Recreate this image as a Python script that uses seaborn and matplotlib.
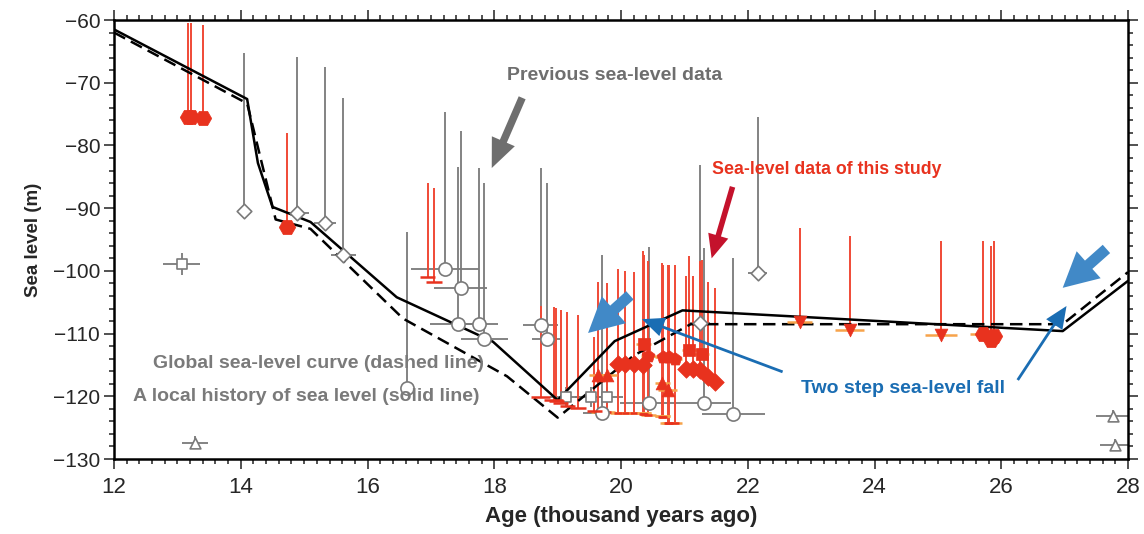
import numpy as np
import pandas as pd
import seaborn as sns
import matplotlib.pyplot as plt
from matplotlib.ticker import MultipleLocator

sns.set_theme(style='ticks')
plt.rcParams['font.family'] = ['Liberation Sans', 'DejaVu Sans']

# sea-level curves: local history (solid) and global curve (dashed)
local_age = [12.0, 14.1, 14.27, 14.5, 15.1, 16.46, 17.98, 19.0, 19.9, 20.97, 26.97, 28.0]
local_sl = [-61.5, -72.6, -82.8, -89.8, -92.2, -104.2, -111.3, -120.6, -111.2, -106.3, -109.6, -101.6]
global_age = [12.0, 14.1, 14.55, 15.1, 16.56, 18.2, 19.0, 20.2, 21.1, 26.97, 28.0]
global_sl = [-62.0, -73.3, -91.8, -93.3, -107.6, -116.8, -123.4, -113.5, -108.5, -108.5, -100.2]

# previous sea-level data (open grey symbols)
prev_age = [14.05, 14.89, 15.33, 15.62, 13.07, 13.28, 16.62, 17.22, 17.47, 17.43, 17.76, 17.84,
            18.73, 18.83, 19.13, 19.52, 19.78, 19.70, 20.44, 21.24, 21.31, 21.77, 22.16, 27.76, 27.80]
prev_sl = [-90.4, -90.7, -92.3, -97.4, -98.9, -127.4, -118.7, -99.7, -102.7, -108.4, -108.5, -110.8,
           -108.6, -110.9, -120.1, -120.1, -120.1, -122.6, -121.0, -108.3, -121.1, -122.8, -100.3, -123.1, -127.8]
prev_hi = [-65.3, -65.9, -67.5, -72.4, -97.1, -126.4, -93.8, -74.7, -77.7, -83.4, -83.6, -86.0,
           -83.6, -86.0, -118.5, -118.5, -118.5, -97.5, -96.2, -83.1, -96.3, -98.0, -75.4, -122.2, -126.8]
prev_lo = [-90.4, -90.7, -92.3, -97.4, -100.7, -127.4, -118.7, -99.7, -102.7, -108.4, -108.5, -110.8,
           -108.6, -110.9, -121.7, -121.7, -121.7, -122.6, -121.0, -108.3, -121.1, -122.8, -100.3, -123.1, -127.8]
prev_xerr = [0.0, 0.18, 0.18, 0.2, 0.29, 0.2, 0.0, 0.54, 0.42, 0.45, 0.3, 0.37,
             0.27, 0.23, 0.25, 0.25, 0.25, 0.3, 0.45, 0.17, 0.42, 0.5, 0.15, 0.26, 0.24]
prev_marker = ['D', 'D', 'D', 'D', 's', '^', 'o', 'o', 'o', 'o', 'o', 'o',
               'o', 'o', 's', 's', 's', 'o', 'o', 'D', 'o', 'o', 'D', '^', '^']

# sea-level data of this study (red symbols)
new_age = [13.17, 13.22, 13.40, 14.73, 16.95, 17.05, 18.73, 18.94, 18.98, 19.05, 19.15, 19.32, 19.58,
           19.64, 19.78, 19.95, 20.07, 20.20, 20.35, 20.36, 20.43, 20.65, 20.66, 20.74, 20.76, 20.85,
           21.03, 21.08, 21.14, 21.24, 21.27, 21.37, 21.48, 22.82, 23.61, 25.05, 25.72, 25.84, 25.88]
new_sl = [-75.5, -75.5, -75.6, -93.0, -100.9, -101.7, -120.1, -120.6, -120.8, -121.0, -121.5, -121.9, -122.3,
          -116.6, -116.6, -114.8, -114.8, -114.8, -115.0, -111.7, -113.6, -117.8, -113.7, -119.0, -113.7, -114.0,
          -115.6, -112.6, -115.6, -115.8, -113.3, -116.9, -117.7, -108.2, -109.5, -110.3, -110.0, -111.0, -110.4]
new_hi = [-60.5, -60.5, -60.8, -78.0, -86.0, -86.8, -105.6, -105.8, -105.9, -106.3, -106.5, -107.0, -110.5,
          -101.7, -101.9, -99.7, -100.0, -100.1, -96.9, -97.5, -98.5, -98.8, -99.0, -99.1, -99.1, -99.1,
          -100.8, -97.7, -100.8, -98.5, -98.3, -101.7, -102.8, -93.1, -94.4, -95.2, -95.2, -96.0, -95.2]
new_lo = [-75.5, -75.5, -75.6, -93.0, -100.9, -101.7, -120.1, -120.6, -120.8, -121.0, -121.5, -121.9, -122.3,
          -122.5, -122.5, -122.6, -122.6, -122.6, -122.7, -122.7, -123.0, -123.2, -123.2, -124.2, -124.2, -124.2,
          -115.6, -112.6, -115.6, -115.8, -113.3, -116.9, -117.7, -108.2, -109.5, -110.3, -110.0, -111.0, -110.4]
new_xerr = [0.0, 0.0, 0.0, 0.0, 0.12, 0.12, 0.15, 0.15, 0.12, 0.12, 0.12, 0.12, 0.12,
            0.15, 0.15, 0.12, 0.12, 0.12, 0.12, 0.12, 0.12, 0.12, 0.12, 0.15, 0.12, 0.12,
            0.12, 0.12, 0.12, 0.12, 0.12, 0.12, 0.12, 0.2, 0.23, 0.25, 0.22, 0.0, 0.0]
new_marker = ['H', 'H', 'H', 'H', '_', '_', '_', '_', '_', '_', '_', '_', '_',
              '^', '^', 'D', 'D', 'D', 'D', 's', 'p', '^', 'p', '^', 'p', 'p',
              'D', 's', 'D', 'D', 's', 'D', 'D', 'v', 'v', 'v', 'H', 'H', 'H']

prev = pd.DataFrame({'age': prev_age, 'sl': prev_sl, 'hi': prev_hi, 'lo': prev_lo,
                     'xerr': prev_xerr, 'marker': prev_marker})
new = pd.DataFrame({'age': new_age, 'sl': new_sl, 'hi': new_hi, 'lo': new_lo,
                    'xerr': new_xerr, 'marker': new_marker})

GREY = '#7a7a7a'
RED = '#e8321e'
LRED = '#f04a36'
ORANGE = '#f7a34a'

fig = plt.figure(figsize=(11.44, 5.34), dpi=100)
ax = fig.add_axes([0.0997, 0.1404, 0.8863, 0.8221])

# grey error bars
ax.vlines(prev['age'], prev['lo'], prev['hi'], color=GREY, lw=1.3, zorder=1)
p = prev[prev['xerr'] > 0]
ax.hlines(p['sl'], p['age'] - p['xerr'], p['age'] + p['xerr'], color=GREY, lw=1.3, zorder=1)

# red depth ranges
ax.vlines(new['age'], new['lo'], new['hi'], color=LRED, lw=1.4, zorder=2)
b = new[(new['lo'] < new['sl'])]
ax.hlines(b['lo'], b['age'] - 0.12, b['age'] + 0.12, color=ORANGE, lw=1.8, zorder=2)
ax.hlines(b['lo'] - 0.05, b['age'] - 0.06, b['age'] + 0.06, color=RED, lw=1.8, zorder=2)

# curves
sns.lineplot(x=global_age, y=global_sl, sort=False, estimator=None, color='black',
             lw=1.8, ax=ax, zorder=3)
ax.lines[-1].set_dashes((5, 2.6))
sns.lineplot(x=local_age, y=local_sl, sort=False, estimator=None, color='black',
             lw=1.8, ax=ax, zorder=3)

# grey symbols
prev_sizes = {'o': 90, 'D': 55, 's': 50, '^': 60}
for m, g in prev.groupby('marker'):
    sns.scatterplot(x=g['age'], y=g['sl'], marker=m, s=prev_sizes[m], color='white',
                    edgecolor=GREY, linewidth=1.2, ax=ax, zorder=4, legend=False)

# orange age bars
o = new[new['xerr'] > 0]
ax.hlines(o['sl'], o['age'] - o['xerr'], o['age'] + o['xerr'],
          color=np.where(o['marker'] == '_', RED, ORANGE), lw=1.8, zorder=4)

# red symbols
new_sizes = {'H': 140, 'D': 80, 's': 70, '^': 85, 'v': 85, 'p': 95}
for m, g in new[new['marker'] != '_'].groupby('marker'):
    sns.scatterplot(x=g['age'], y=g['sl'], marker=m, s=new_sizes[m], color=RED,
                    edgecolor=RED, linewidth=0.5, ax=ax, zorder=5, legend=False)


def arrow(tail, tip, color, tw, hw, hl):
    ax.annotate('', xy=tip, xytext=tail, zorder=8,
                arrowprops=dict(arrowstyle=f'simple,head_length={hl},head_width={hw},tail_width={tw}',
                                fc=color, ec='none', shrinkA=0, shrinkB=0, mutation_scale=20))


arrow((18.44, -72.4), (17.96, -83.6), '#6e6e6e', 0.27, 0.9, 1.05)
arrow((21.76, -86.6), (21.43, -98.0), '#c4122c', 0.2, 0.75, 0.85)
arrow((20.14, -103.9), (19.48, -109.9), '#4189c7', 0.4, 1.3, 1.25)
arrow((27.66, -96.5), (26.97, -102.7), '#4189c7', 0.4, 1.3, 1.25)
arrow((22.55, -116.1), (20.33, -107.7), '#1a6db3', 0.1, 0.7, 0.8)
arrow((26.26, -117.4), (27.03, -105.6), '#1a6db3', 0.1, 0.7, 0.8)

tkw = dict(fontweight='bold', ha='center', va='center', zorder=9)
ax.text(19.9, -68.8, 'Previous sea-level data', color='#6e6e6e', fontsize=14, **tkw)
ax.text(23.25, -83.9, 'Sea-level data of this study', color='#e8321e', fontsize=12.8, **tkw)
ax.text(24.45, -118.7, 'Two step sea-level fall', color='#1a6db3', fontsize=14, **tkw)
ax.text(15.22, -114.7, 'Global sea-level curve (dashed line)', color='#7a7a7a', fontsize=14, **tkw)
ax.text(15.04, -120.0, 'A local history of sea level (solid line)', color='#7a7a7a', fontsize=14, **tkw)

ax.set_xlim(12, 28)
ax.set_ylim(-130, -60)
ax.set_xticks(range(12, 29, 2))
ax.set_yticks(range(-130, -59, 10))
ax.xaxis.set_minor_locator(MultipleLocator(0.2))
ax.yaxis.set_minor_locator(MultipleLocator(2))
ax.tick_params(which='both', direction='out', top=True, right=True, width=1.1, color='#222222')
ax.tick_params(which='major', length=7)
ax.tick_params(which='minor', length=3.5)
ax.tick_params(axis='y', labelsize=15, pad=3)
ax.tick_params(axis='x', labelsize=16, pad=6)
for s in ax.spines.values():
    s.set_linewidth(1.8)
    s.set_color('black')

ax.set_xlabel('Age (thousand years ago)', fontsize=16, fontweight='bold', labelpad=6)
ax.set_ylabel('Sea level (m)', fontsize=13.5, fontweight='bold', labelpad=8)

fig.savefig('out.png', dpi=100)
